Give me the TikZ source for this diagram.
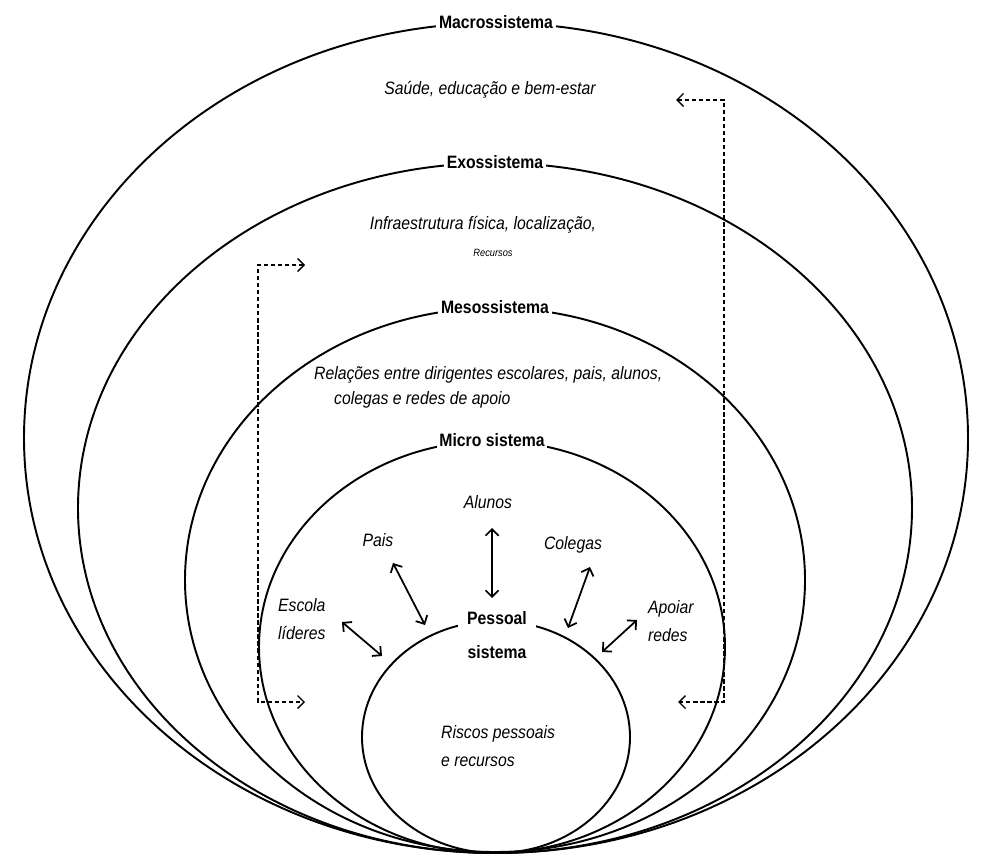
\documentclass[tikz,border=0pt]{standalone}
\usepackage{fontspec}
\setmainfont[FakeStretch=0.88]{Liberation Sans}
\usetikzlibrary{shapes.geometric,arrows.meta}

\tikzset{
    sys/.style={ellipse, draw, line width=1.1pt, inner sep=0pt},
    sysname/.style={font=\fontsize{10.2}{12}\selectfont\bfseries, fill=white, inner sep=1.5pt},
    lbl/.style={font=\fontsize{10.2}{16}\selectfont\itshape, inner sep=1pt},
    link/.style={{Straight Barb[length=1.3mm,width=2.6mm]}-{Straight Barb[length=1.3mm,width=2.6mm]}, line width=1pt},
    feed/.style={{Straight Barb[length=1.3mm,width=2.6mm]}-{Straight Barb[length=1.3mm,width=2.6mm]}, line width=0.8pt, dash pattern=on 2.5pt off 1.5pt}
}

\begin{document}
\begin{tikzpicture}
        \useasboundingbox (0, 0) rectangle (19.78, 17.22);

        % nested systems
        \node[sys, minimum width=18.88cm, minimum height=16.60cm] (macro) at (9.92, 8.46) {};
        \node[sys, minimum width=16.68cm, minimum height=13.80cm] (exo) at (9.90, 7.06) {};
        \node[sys, minimum width=12.40cm, minimum height=10.88cm] (meso) at (9.90, 5.62) {};
        \node[sys, minimum width=9.32cm, minimum height=8.24cm] (micro) at (9.84, 4.28) {};
        \node[sys, minimum width=5.36cm, minimum height=4.64cm] (pessoal) at (9.92, 2.48) {};

        \node[sysname] (macroname) at (macro.north) {Macrossistema};
        \node[sysname] (exoname) at (exo.north) {Exossistema};
        \node[sysname] (mesoname) at (meso.north) {Mesossistema};
        \node[sysname] (microname) at (micro.north) {Micro sistema};
        \node[sysname, font=\fontsize{10.2}{19}\selectfont\bfseries, align=center, inner xsep=5pt] (pessoalname) at (9.94, 4.52) {Pessoal\\sistema};

        \node[lbl] (saude) at (9.80, 15.42) {Saúde, educação e bem-estar};
        \node[lbl] (infra) at (9.66, 12.72) {Infraestrutura física, localização,};
        \node[lbl, font=\fontsize{6}{7}\selectfont\itshape] (recursos) at (9.86, 12.16) {Recursos};
        \node[lbl, anchor=west] (rel1) at (6.24, 9.72) {Relações entre dirigentes escolares, pais, alunos,};
        \node[lbl, anchor=west] (rel2) at (6.64, 9.22) {colegas e redes de apoio};

        \node[lbl] (alunos) at (9.76, 7.18) {Alunos};
        \node[lbl] (pais) at (7.56, 6.42) {Pais};
        \node[lbl] (colegas) at (11.46, 6.32) {Colegas};
        \node[lbl, anchor=west, align=left] (escola) at (5.52, 4.84) {Escola\\líderes};
        \node[lbl, anchor=west, align=left] (apoiar) at (12.92, 4.79) {Apoiar\\redes};
        \node[lbl, anchor=west, align=left] (riscos) at (8.78, 2.30) {Riscos pessoais\\e recursos};

        % arrows to the person
        \coordinate (alunos-a) at (9.84, 6.66);
        \coordinate (alunos-b) at (9.84, 5.26);
        \coordinate (pais-a) at (7.86, 5.96);
        \coordinate (pais-b) at (8.50, 4.72);
        \coordinate (colegas-a) at (11.80, 5.88);
        \coordinate (colegas-b) at (11.36, 4.66);
        \coordinate (escola-a) at (6.84, 4.78);
        \coordinate (escola-b) at (7.64, 4.10);
        \coordinate (apoiar-a) at (12.74, 4.82);
        \coordinate (apoiar-b) at (12.04, 4.18);

        \draw[link] (alunos-a) -- (alunos-b);
        \draw[link] (pais-a) -- (pais-b);
        \draw[link] (colegas-a) -- (colegas-b);
        \draw[link] (escola-a) -- (escola-b);
        \draw[link] (apoiar-a) -- (apoiar-b);

        % feedback loops
        \coordinate (lt) at (6.10, 11.92);
        \coordinate (ltc) at (5.16, 11.92);
        \coordinate (lbc) at (5.16, 3.18);
        \coordinate (lb) at (6.10, 3.18);
        \coordinate (rt) at (13.52, 15.22);
        \coordinate (rtc) at (14.48, 15.22);
        \coordinate (rbc) at (14.48, 3.18);
        \coordinate (rb) at (13.56, 3.18);

        \draw[feed] (lt) -- (ltc) -- (lbc) -- (lb);
        \draw[feed] (rt) -- (rtc) -- (rbc) -- (rb);

    \end{tikzpicture}
\end{document}
